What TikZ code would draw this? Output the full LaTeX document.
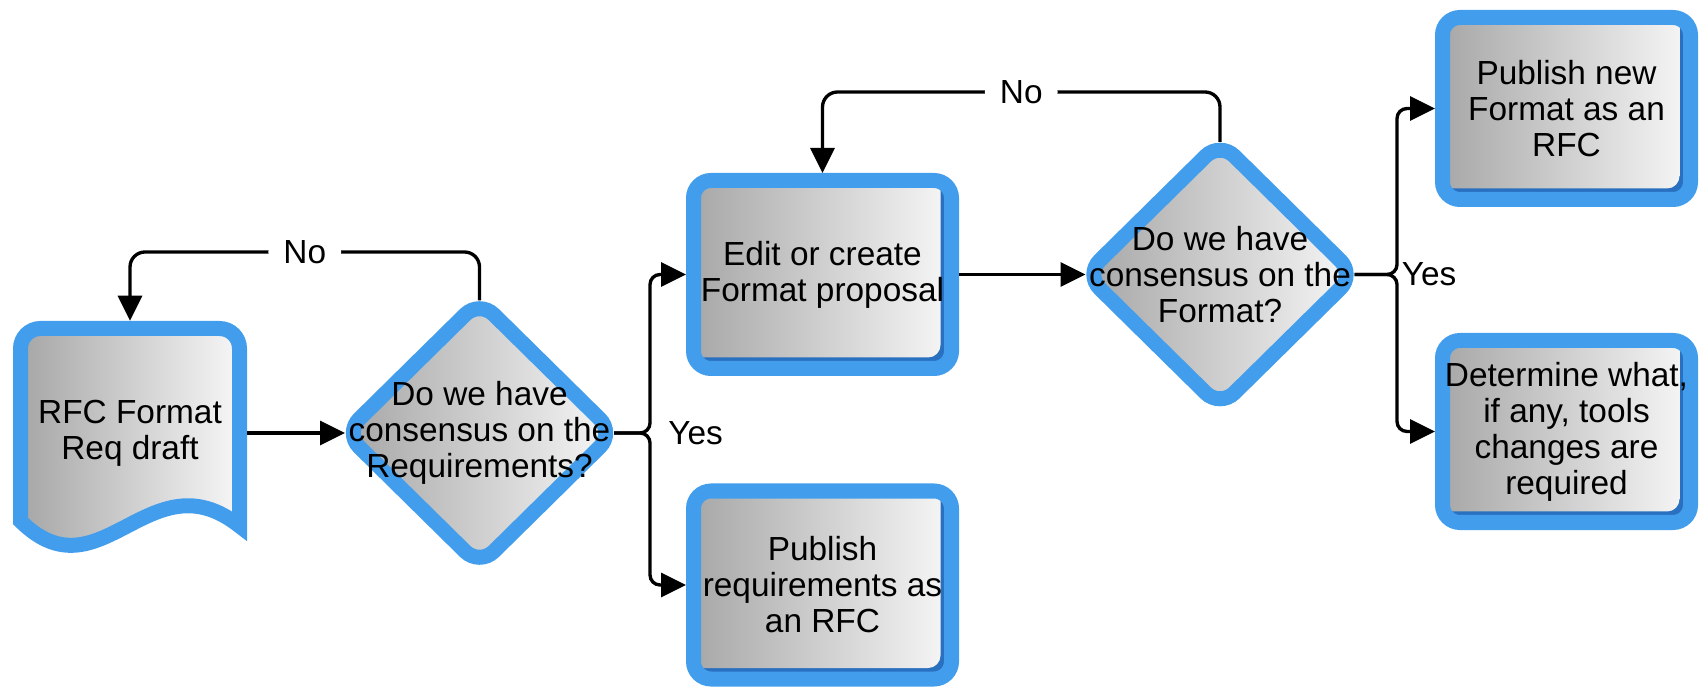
\documentclass[tikz,border=0pt]{standalone}
\usepackage{fontspec}
\setmainfont{Liberation Sans}
\usepackage{tikz}
\usetikzlibrary{arrows.meta}
\usetikzlibrary{shapes.geometric}
\definecolor{bleu}{RGB}{66,158,236}
\definecolor{bleufonce}{RGB}{42,112,192}
\definecolor{grisg}{RGB}{166,166,166}
\definecolor{grisd}{RGB}{247,247,247}
\tikzset{
  texte/.style={font=\fontsize{19}{20.5}\selectfont, align=center},
  boite/.style={texte, draw=bleu, line width=0.3cm, rounded corners=0.35cm, fill=bleufonce, inner sep=0pt,
    minimum width=5.16cm, minimum height=3.76cm,
    path picture={\shade[left color=grisg, right color=grisd, rounded corners=0.25cm]
      ([xshift=-0.1cm,yshift=0.22cm]path picture bounding box.south west) rectangle
      ([xshift=-0.22cm,yshift=0.1cm]path picture bounding box.north east);}},
  losange/.style={diamond, draw=bleu, line width=0.3cm, rounded corners=0.4cm, left color=grisg, right color=grisd,
    minimum width=5.38cm, minimum height=5.30cm, inner sep=0pt, outer sep=0pt,
    label={[texte]center:#1}},
  fleche/.style={-{Triangle[length=0.5cm,width=0.48cm]}, line width=1.9pt, rounded corners=0.2cm},
  rep/.style={texte, fill=white, inner xsep=0.3cm, inner ysep=0.05cm},
}
\begin{document}
\begin{tikzpicture}
\useasboundingbox (0,0) rectangle (34.16,13.74);
% document de depart
\draw[draw=bleu, line width=0.3cm, left color=grisg, right color=grisd]
  (0.41,5) -- (0.41,6.77) arc[start angle=180, end angle=90, radius=0.4cm] -- (4.39,7.17)
  arc[start angle=90, end angle=0, radius=0.4cm] -- (4.79,3.22)
  .. controls (3.0,4.64) and (2.0,1.74) .. (0.41,3.32) -- cycle;
\node[texte, minimum width=4.68cm, minimum height=4.48cm, inner sep=0pt] (draft) at (2.6,5.08) {RFC Format\\Req draft};
% exigences
\node[losange={Do we have\\consensus on the\\Requirements?}] (d1) at (9.59,5.08) {};
\node[boite] (edit) at (16.45,8.25) {Edit or create\\Format proposal};
\node[boite] (pubreq) at (16.45,2.04) {Publish\\requirements as\\an RFC};
% format
\node[losange={Do we have\\consensus on the\\Format?}] (d2) at (24.4,8.25) {};
\node[boite, minimum width=4.96cm, minimum height=3.64cm] (pubnew) at (31.33,11.57) {Publish new\\Format as an\\RFC};
\node[boite, minimum width=4.96cm, minimum height=3.64cm] (det) at (31.33,5.11) {Determine what,\\if any, tools\\changes are\\required};
% fleches
\draw[fleche] (draft.east) -- (d1.west);
\draw[fleche] (d1.east) -- ++(0.72,0) |- (edit.west);
\draw[fleche] (d1.east) -- ++(0.72,0) node[texte, right, inner sep=1pt, xshift=0.3cm] {Yes} |- (pubreq.west);
\draw[fleche, rounded corners=0.3cm] (d1.north) -- ++(0,0.97) -| (draft.north) node[rep, pos=0.25] {No};
\draw[fleche] (edit.east) -- (d2.west);
\draw[fleche] (d2.east) -- ++(0.85,0) |- (pubnew.west);
\draw[fleche] (d2.east) -- ++(0.85,0) node[texte, right, inner sep=1pt, xshift=0.03cm] {Yes} |- (det.west);
\draw[fleche, rounded corners=0.3cm] (d2.north) -- ++(0,1.0) -| (edit.north) node[rep, pos=0.25] {No};
\end{tikzpicture}
\end{document}
